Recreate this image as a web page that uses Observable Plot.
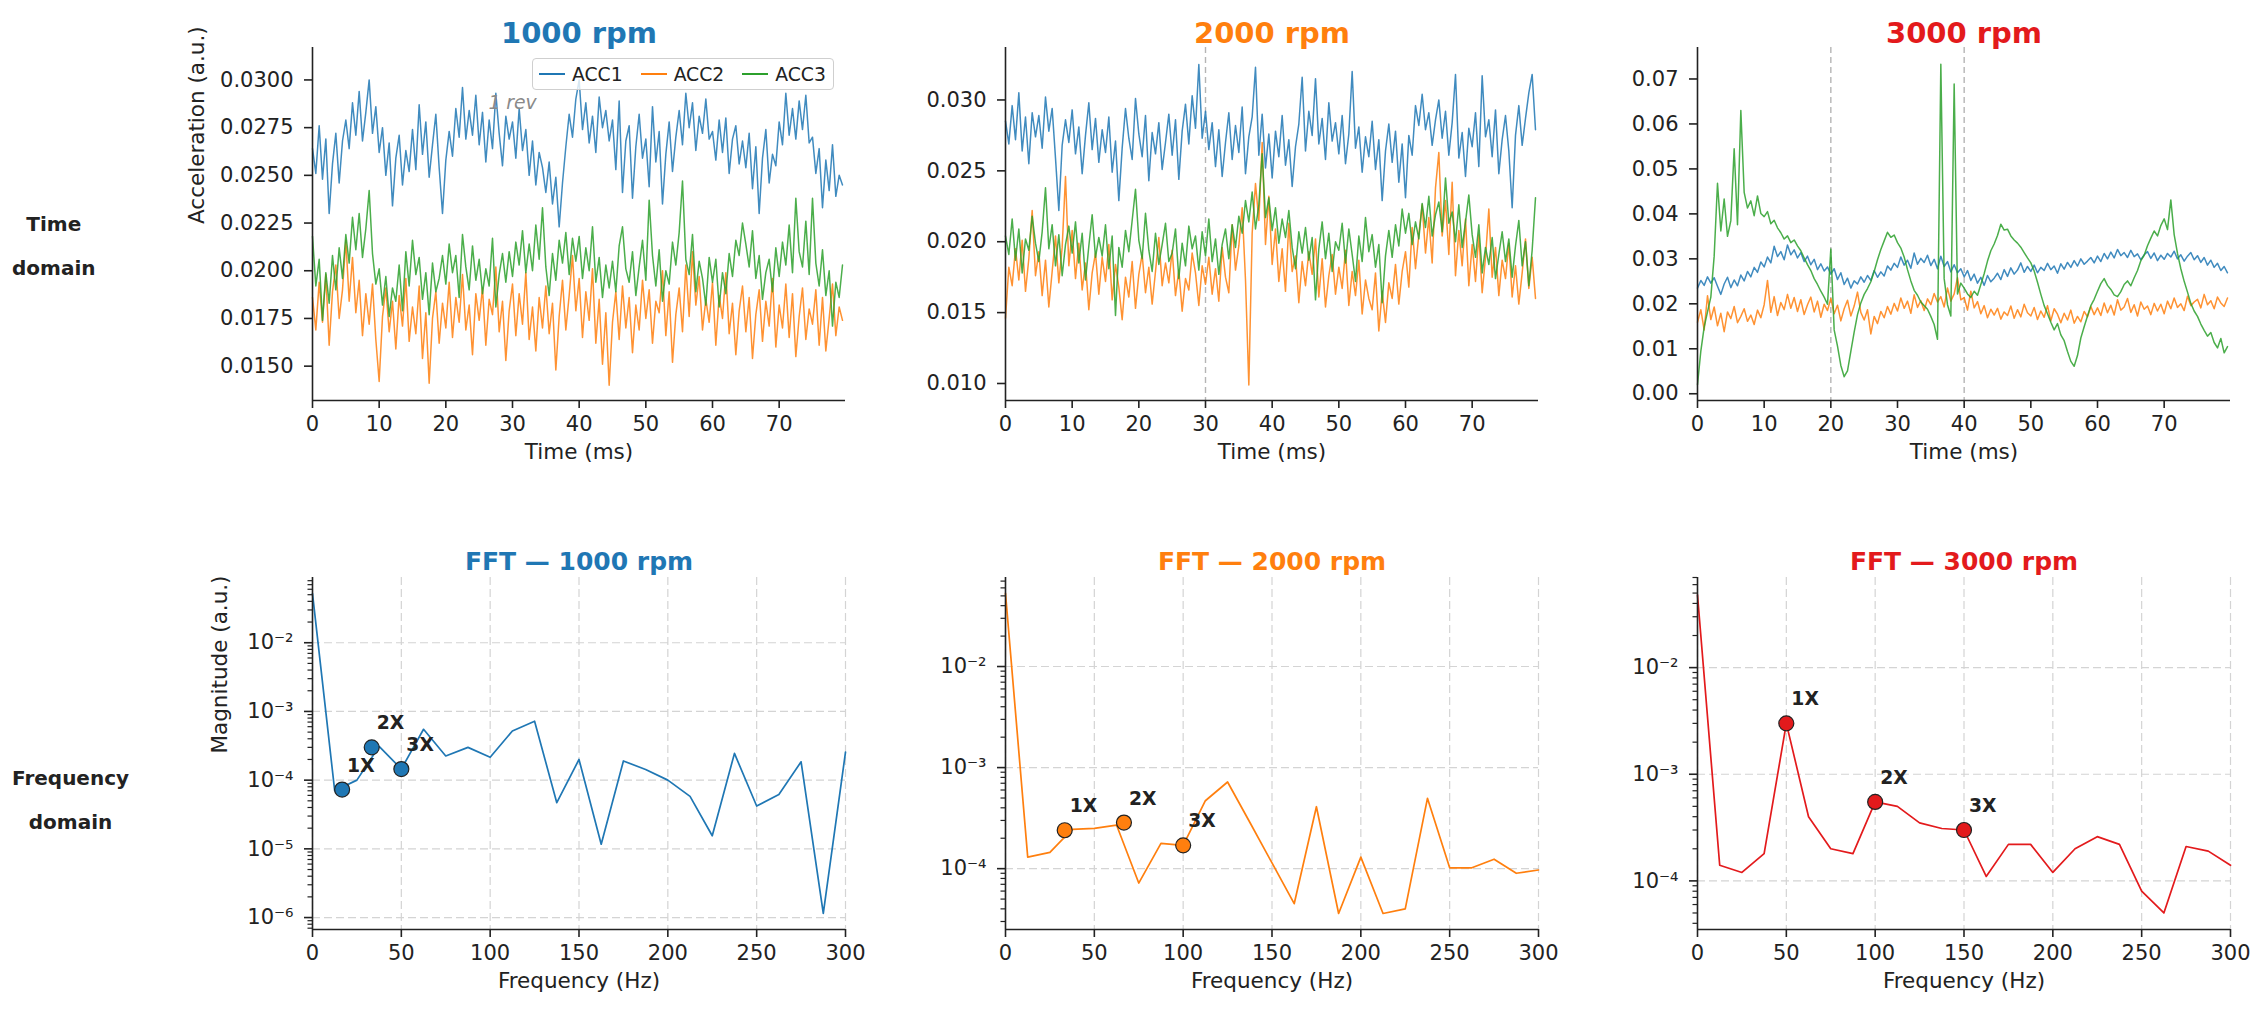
<!DOCTYPE html>
<html>
<head>
<meta charset="utf-8">
<script src="https://cdn.jsdelivr.net/npm/d3@7"></script>
<script src="https://cdn.jsdelivr.net/npm/@observablehq/plot@0.6"></script>
<style>
  body { margin: 0; background: #fff; }
  #fig { position: relative; width: 2259px; height: 1009px; background: #fff; overflow: hidden;
         font-family: "DejaVu Sans", sans-serif; color: #222; }
  .panel { position: absolute; }
  .rowlab { position: absolute; font-weight: bold; font-size: 20px; text-align: center; line-height: 2.2;
            transform: translateY(-50%); white-space: nowrap; }
  .legend { position: absolute; box-sizing: border-box; border: 1px solid #cfcfcf; border-radius: 4px;
            background: rgba(255,255,255,0.8); display: flex; align-items: center; padding-left: 6px;
            font-size: 18.75px; }
  .legend .item { display: flex; align-items: center; margin-right: 18px; }
  .legend .sw { width: 26px; height: 2px; margin-right: 7px; }
</style>
</head>
<body>
<div id="fig"></div>
<script>
// ---------------- DATA ----------------
// time-domain samples, every 0.5 ms, values in units of 1e-3 (a.u.)
const timeStepMs = 0.5;
const timeTicksMs = [0, 10, 20, 30, 40, 50, 60, 70];
const seriesNames = ["ACC1", "ACC2", "ACC3"];

const acc1_1000 = [
26.4,25.1,27.6,24.8,26.9,23.0,25.6,27.2,24.6,26.8,
27.9,26.4,28.8,27.1,29.4,26.8,28.3,30.0,27.2,28.6,
26.2,27.5,25.0,26.7,23.4,25.9,27.1,24.5,26.3,25.2,
27.4,25.3,28.7,26.1,27.8,24.9,26.6,28.2,25.4,23.0,
25.8,27.3,26.0,28.5,27.0,29.6,26.9,28.4,27.1,29.2,
26.6,28.3,25.7,27.9,26.4,29.3,27.2,25.5,28.1,26.9,
27.8,25.9,28.5,26.3,27.4,25.0,26.8,24.5,26.2,25.4,
24.1,25.7,23.5,24.9,22.3,24.6,26.5,28.2,27.0,29.0,
30.0,27.4,28.8,26.7,28.1,26.2,29.1,27.5,28.4,26.8,
27.9,25.3,28.9,24.1,26.8,27.6,23.8,26.5,28.2,25.9,
26.9,24.4,28.6,25.7,27.3,23.5,26.1,27.8,25.2,27.0,
28.4,26.6,29.3,27.5,28.8,26.3,28.1,27.2,29.0,26.9,
27.3,25.8,27.9,26.2,28.0,25.1,26.9,27.6,25.6,26.8,
25.4,27.2,24.3,26.5,23.0,25.9,27.4,24.6,26.1,25.5,
27.8,26.6,29.3,27.1,28.5,26.9,28.9,27.4,29.2,26.7,
27.0,25.1,26.4,23.3,25.8,24.2,26.6,23.9,25.0,24.5];
const acc2_1000 = [
18.6,16.9,19.4,17.3,19.8,16.1,18.9,20.3,17.5,19.0,
21.6,18.4,20.7,17.8,19.5,16.6,18.8,17.2,19.3,16.4,
14.2,17.6,19.1,16.8,18.4,15.9,18.7,17.1,19.6,16.3,
18.1,16.7,19.2,15.4,17.8,14.1,17.5,18.9,16.2,18.3,
17.0,19.4,16.5,18.6,17.3,19.8,16.9,18.2,15.6,18.8,
17.4,19.1,16.1,18.5,17.7,20.2,16.8,18.4,15.3,17.9,
19.3,16.6,18.8,17.2,19.9,16.4,18.1,15.8,18.6,17.0,
19.2,16.7,18.3,14.8,17.6,19.5,16.9,18.7,20.8,17.9,
19.6,16.5,18.9,17.4,20.1,16.2,18.5,15.1,17.8,14.0,
17.3,18.9,16.4,19.2,17.0,18.6,15.7,18.2,16.9,19.5,
17.5,19.0,16.2,18.4,17.8,20.0,16.6,18.9,15.2,17.7,
19.1,16.8,20.3,17.6,21.0,18.2,19.7,16.9,18.5,17.3,
19.4,16.1,18.7,17.5,19.9,16.7,18.3,15.6,17.9,19.2,
16.8,18.6,15.4,17.7,19.0,16.3,18.4,17.1,19.6,16.0,
18.2,17.0,19.3,16.5,18.8,15.5,17.6,19.1,16.4,18.0,
17.2,19.0,16.1,18.6,15.8,17.5,19.3,16.6,18.1,17.4];
const acc3_1000 = [
21.8,19.2,20.6,17.4,19.9,18.3,20.8,19.0,21.2,19.6,
21.9,20.4,22.8,21.1,23.0,20.7,22.2,24.2,20.9,19.3,
20.1,18.2,19.7,17.6,19.1,18.4,20.3,17.9,21.0,19.2,
21.6,19.8,20.7,18.5,19.9,17.7,20.4,18.9,19.6,20.8,
19.3,21.4,19.9,20.8,18.6,21.9,20.2,19.0,21.3,19.5,
20.6,18.8,20.1,19.2,21.7,18.1,19.8,20.9,19.4,21.0,
19.7,21.5,20.3,22.1,19.9,21.4,20.0,22.4,20.6,23.3,
20.2,18.7,20.9,19.5,21.6,20.4,22.0,19.8,21.7,20.5,
21.8,19.6,21.2,20.0,22.3,19.4,20.7,18.6,20.3,19.1,
20.5,18.9,21.3,22.3,20.1,19.4,21.0,18.7,20.2,21.6,
19.5,23.7,20.8,19.2,21.1,18.4,20.0,19.3,21.5,20.3,
22.0,24.7,20.6,19.8,21.9,18.9,20.5,19.6,18.2,20.7,
19.4,20.6,18.1,19.9,18.8,20.9,19.7,21.6,20.8,22.5,
21.4,20.2,22.1,19.6,20.8,18.5,19.9,20.6,18.9,21.2,
19.7,21.5,20.3,22.4,19.9,23.8,21.0,20.2,22.6,19.8,
23.8,20.4,19.2,21.1,18.7,20.0,17.1,19.4,18.6,20.3];

const acc1_2000 = [
28.5,26.9,29.6,27.2,30.5,26.4,28.8,25.5,29.1,27.4,
28.9,26.6,30.2,27.8,29.4,25.9,22.2,26.8,28.6,27.0,
29.3,26.2,28.1,24.8,27.5,29.8,26.5,28.7,25.6,27.9,
26.3,28.8,24.9,27.1,22.9,26.6,29.4,27.3,25.8,30.1,
27.6,26.0,28.9,24.3,27.7,26.2,28.4,25.1,27.0,29.0,
26.1,28.6,24.4,27.8,29.7,26.9,30.3,28.0,32.5,27.3,
29.2,26.5,28.4,25.3,27.9,24.6,27.0,29.1,25.8,28.2,
26.3,29.5,24.8,27.4,28.8,32.3,26.1,29.0,25.2,27.6,
24.5,27.8,26.0,28.9,25.4,27.2,23.9,26.7,28.3,31.6,
26.4,29.2,27.5,31.5,26.9,28.7,25.8,29.8,27.1,28.4,
26.2,28.9,25.5,27.6,32.0,26.6,28.1,24.9,27.4,26.0,
28.5,25.1,27.2,22.9,26.4,28.3,25.6,27.8,24.2,26.9,
23.1,27.5,26.1,29.6,28.2,30.4,27.9,29.1,26.8,28.6,
30.0,27.3,29.2,26.1,28.4,31.8,25.9,27.7,24.6,28.0,
26.7,29.1,25.3,31.7,27.4,28.6,26.0,29.3,24.8,27.2,
28.9,26.4,22.4,27.5,29.6,26.8,28.7,30.5,31.8,27.9];
const acc2_2000 = [
14.6,18.2,16.9,19.5,17.3,20.1,16.5,18.8,22.2,17.6,
19.3,16.2,18.7,15.4,17.9,20.4,17.1,19.6,24.6,18.3,
20.8,17.4,19.9,16.6,18.5,15.2,17.8,19.2,16.3,18.9,
17.2,19.8,15.9,18.4,16.8,14.5,17.5,16.1,18.6,15.3,
17.7,19.1,16.4,18.2,15.6,17.9,20.3,16.9,18.5,17.1,
19.4,16.2,18.0,15.1,17.4,16.6,19.2,17.8,15.5,18.3,
17.0,18.9,16.3,18.1,15.8,19.6,17.5,16.4,21.2,18.0,
19.7,22.4,17.3,9.9,20.6,24.1,21.5,27.0,19.8,23.2,
18.4,20.9,17.2,19.5,16.5,21.3,17.9,19.0,15.7,18.6,
16.9,19.3,17.7,20.2,16.1,18.8,15.4,17.6,19.1,16.3,
18.2,16.7,19.4,15.5,17.9,16.2,18.7,14.9,17.3,16.0,
15.2,17.8,13.7,16.5,14.3,17.1,16.0,18.4,15.6,17.9,
19.3,16.8,21.0,18.1,20.5,22.6,19.2,21.7,18.5,23.8,
26.3,20.4,22.9,19.1,24.2,17.6,20.8,18.3,21.6,16.9,
19.8,17.2,20.5,16.4,18.9,22.3,17.5,19.6,16.2,18.7,
17.4,19.9,16.1,18.3,15.6,17.8,20.2,16.7,18.9,16.0];
const acc3_2000 = [
20.4,19.1,21.6,18.7,20.9,17.8,20.2,19.4,21.8,19.9,
18.6,20.7,23.8,19.5,21.2,18.3,20.5,17.6,19.8,21.1,
19.2,21.4,18.5,20.6,17.3,19.7,21.9,18.9,20.3,19.0,
21.2,18.1,20.4,14.8,19.6,18.2,20.8,19.3,21.5,23.7,
20.1,18.8,22.0,19.4,17.9,20.6,18.4,19.8,21.3,18.6,
19.2,20.9,17.4,19.9,18.3,21.1,19.5,20.4,18.0,20.7,
19.0,21.6,18.6,20.2,17.7,19.8,20.9,18.8,21.2,19.6,
21.8,20.6,22.9,21.4,23.5,20.9,22.6,26.2,21.7,23.1,
20.8,22.4,19.9,21.6,20.3,22.2,19.6,18.1,20.7,19.2,
21.0,18.7,20.3,15.9,19.5,21.4,18.8,20.6,17.9,20.0,
19.4,21.3,18.5,20.9,19.1,17.2,20.4,18.6,21.7,19.3,
20.5,18.2,19.8,15.7,19.0,20.8,18.9,21.2,19.7,22.3,
20.6,22.0,19.8,21.4,20.2,22.7,21.0,23.2,20.4,21.9,
22.8,20.7,24.5,21.3,22.1,20.0,22.6,19.6,21.4,23.3,
20.5,18.9,21.2,17.8,19.6,18.4,20.3,17.4,19.1,20.7,
18.6,20.2,17.5,19.7,21.5,18.3,20.0,16.9,19.4,23.1];

const acc1_3000 = [
23.5,25.2,24.1,26.0,24.6,25.8,23.9,22.1,24.4,25.9,
23.6,25.3,24.0,26.4,25.1,27.2,26.0,28.1,27.0,29.3,
28.2,30.4,29.1,32.8,30.5,31.6,29.8,33.1,30.9,32.0,
30.2,31.4,29.4,30.6,28.7,29.9,27.6,28.9,27.3,28.2,
26.6,27.8,25.4,26.9,24.3,25.7,23.5,25.1,24.4,26.0,
24.8,26.3,25.2,27.4,25.9,27.1,26.2,28.4,27.5,29.0,
28.1,30.4,28.6,29.7,27.9,31.3,28.8,30.1,29.2,30.8,
28.5,29.9,27.8,30.6,28.3,29.4,27.1,28.7,26.9,27.8,
26.0,27.4,25.2,26.6,24.6,25.9,24.1,26.3,24.9,25.7,
26.8,25.4,27.6,26.1,28.0,26.6,27.5,29.1,27.0,28.3,
27.2,28.6,26.9,28.1,27.4,29.0,27.6,28.4,26.8,28.9,
27.7,29.2,28.1,29.6,28.4,30.0,28.8,29.5,30.3,29.1,
30.6,29.4,31.2,30.0,31.5,30.2,32.1,30.7,31.4,30.3,
31.9,30.5,31.1,29.8,30.9,31.6,30.1,31.3,29.6,30.8,
29.9,31.2,30.4,31.7,30.0,30.9,29.5,30.6,31.4,29.8,
30.7,29.2,30.3,28.6,29.7,28.1,29.0,27.4,28.3,26.9];
const acc2_3000 = [
15.9,18.7,14.2,21.8,16.5,19.3,15.1,17.9,13.8,18.2,
16.7,19.4,15.8,17.2,18.9,16.1,17.5,15.4,18.6,16.9,
19.8,25.2,18.1,21.6,17.4,20.3,18.7,22.1,19.0,21.4,
18.3,20.9,17.6,19.8,21.5,18.2,20.6,17.0,19.9,18.5,
21.2,17.8,19.7,16.2,18.9,20.8,17.3,19.5,22.6,18.1,
16.4,18.7,13.3,17.2,15.6,18.3,16.9,19.4,17.7,20.1,
18.4,21.3,19.0,20.6,17.9,22.0,19.2,20.7,18.5,21.1,
19.8,22.3,20.4,21.6,19.3,23.5,20.6,22.2,25.8,20.9,
21.4,18.6,22.8,19.1,20.5,17.8,19.6,16.9,18.8,17.5,
19.0,16.6,18.2,17.4,19.5,16.8,18.7,17.1,19.9,18.0,
17.3,19.2,16.5,18.4,17.0,19.6,16.2,18.9,17.7,15.8,
17.9,16.4,18.6,15.7,17.2,16.0,18.3,17.1,19.4,17.6,
19.1,17.4,20.2,18.0,19.7,17.5,20.9,18.6,19.3,21.2,
18.1,19.8,17.3,20.4,18.8,19.5,17.6,20.1,18.4,19.9,
17.8,20.6,18.9,21.3,19.2,20.0,18.5,21.7,19.6,20.4,
21.0,19.1,22.1,19.8,20.7,18.9,21.5,20.2,19.4,21.3];
const acc3_3000 = [
2.0,9.5,14.8,18.2,21.5,30.6,46.8,36.2,43.3,35.0,
38.5,54.5,37.6,63.0,44.8,41.3,42.9,39.6,44.0,40.1,
39.4,40.5,37.8,38.6,36.9,35.8,34.4,35.1,33.6,34.2,
32.9,31.8,30.2,28.7,27.4,25.6,24.3,22.8,21.5,19.9,
32.2,14.2,10.6,6.3,3.8,5.1,9.4,13.7,17.6,20.2,
22.1,23.4,24.9,27.2,29.8,32.1,34.0,35.9,34.8,35.3,
33.6,32.4,30.4,27.6,25.1,23.0,21.9,20.4,19.6,18.8,
17.2,15.4,12.1,73.3,25.6,19.8,17.3,68.9,22.2,24.6,
23.5,22.2,21.4,22.8,21.9,24.3,26.7,29.5,31.8,33.3,
35.2,37.7,36.4,36.6,35.1,34.2,33.5,32.6,31.4,30.2,
29.1,27.3,24.8,22.1,19.6,17.8,15.9,14.2,15.6,13.1,
11.8,9.4,7.2,6.1,8.5,12.4,14.9,17.3,19.6,21.0,
22.8,24.5,25.6,24.1,23.2,22.0,21.6,22.7,24.3,25.1,
24.0,25.8,27.4,29.6,30.8,32.9,34.6,36.2,35.1,37.4,
38.9,36.5,43.1,35.4,31.2,27.8,25.0,22.6,20.1,18.4,
17.2,15.5,14.1,12.8,13.6,11.4,10.2,12.3,9.1,10.5];

// revolution markers (ms) and tick values
const revLines1000 = [];
const revLines2000 = [30];
const revLines3000 = [20, 40];
const revLabel1000 = {t: 30, v: 0.02881, text: "1 rev"};
const yTicks1000 = [0.0150, 0.0175, 0.0200, 0.0225, 0.0250, 0.0275, 0.0300];
const yTicks2000 = [0.010, 0.015, 0.020, 0.025, 0.030];
const yTicks3000 = [0.00, 0.01, 0.02, 0.03, 0.04, 0.05, 0.06, 0.07];

// frequency domain
const fftFreqHz = [0,12.5,25,37.5,50,62.5,75,87.5,100,112.5,125,137.5,150,162.5,175,187.5,200,212.5,225,237.5,250,262.5,275,287.5,300];
const fft1000 = [0.052,7.0e-5,1.0e-4,3.1e-4,1.45e-4,5.5e-4,2.25e-4,3.0e-4,2.15e-4,5.2e-4,7.2e-4,4.7e-5,2.0e-4,1.17e-5,1.9e-4,1.43e-4,1.0e-4,5.8e-5,1.55e-5,2.45e-4,4.2e-5,6.2e-5,1.85e-4,1.15e-6,2.55e-4];
const fft2000 = [0.053,1.3e-4,1.45e-4,2.45e-4,2.5e-4,2.7e-4,7.2e-5,1.78e-4,1.7e-4,4.7e-4,7.2e-4,2.88e-4,1.14e-4,4.5e-5,4.1e-4,3.6e-5,1.3e-4,3.6e-5,4.0e-5,4.96e-4,1.02e-4,1.02e-4,1.24e-4,9.0e-5,9.7e-5];
const fft3000 = [0.048,1.4e-4,1.2e-4,1.8e-4,3.0e-3,4.0e-4,2.0e-4,1.8e-4,5.5e-4,5.0e-4,3.5e-4,3.1e-4,3.0e-4,1.1e-4,2.2e-4,2.2e-4,1.2e-4,2.0e-4,2.6e-4,2.2e-4,8.0e-5,5.0e-5,2.1e-4,1.9e-4,1.4e-4];
const harmonicLabels = ["1X", "2X", "3X"];
const harm1000Hz = [16.67, 33.33, 50];
const harm1000Mag = [7.3e-5, 3.0e-4, 1.45e-4];
const harm2000Hz = [33.33, 66.67, 100];
const harm2000Mag = [2.4e-4, 2.86e-4, 1.7e-4];
const harm3000Hz = [50, 100, 150];
const harm3000Mag = [3.0e-3, 5.5e-4, 3.0e-4];
const freqTicksHz = [0, 50, 100, 150, 200, 250, 300];
const rowLabels = [["Time", "domain"], ["Frequency", "domain"]];

// ---------------- STYLE / LAYOUT ----------------
const C_BLUE = "#1f77b4", C_ORANGE = "#ff7f0e", C_GREEN = "#2ca02c", C_RED = "#e31a1c";
const seriesColors = [C_BLUE, C_ORANGE, C_GREEN];
const INK = "#222";
const colLeft = [312, 1005, 1697];
const frameW = 533;
const topFrameTop = 47, topFrameH = 353;
const botFrameTop = 577, botFrameH = 352;
const ML = 140, MR = 20;
const rowLabelY = [246, 800];

const fig = document.getElementById("fig");
const sup = {"0":"⁰","1":"¹","2":"²","3":"³","4":"⁴","5":"⁵","6":"⁶","7":"⁷","8":"⁸","9":"⁹","-":"⁻"};
const powFmt = d => "10" + String(Math.round(Math.log10(d))).split("").map(c => sup[c] || c).join("");
function minorTicks(lo, hi) {
  const out = [];
  for (let k = Math.floor(Math.log10(lo)); k <= Math.ceil(Math.log10(hi)); k++)
    for (let m = 2; m <= 9; m++) { const v = m * Math.pow(10, k); if (v >= lo && v <= hi) out.push(v); }
  return out;
}
function place(el, left, top) {
  el.classList.add("panel");
  el.style.left = left + "px"; el.style.top = top + "px";
  fig.appendChild(el);
}
const svgStyle = {fontFamily: "DejaVu Sans", fontSize: "21px", color: INK, background: "transparent", overflow: "visible"};

function timePanel(cfg) {
  const marks = [];
  marks.push(Plot.ruleX(cfg.revLines, {stroke: "#b5b5b5", strokeWidth: 1.4, strokeDasharray: "6,4"}));
  cfg.series.forEach((vals, si) => {
    const rows = vals.map((v, i) => ({t: i * timeStepMs, v: v / 1000}));
    marks.push(Plot.line(rows, {x: "t", y: "v", stroke: seriesColors[si], strokeWidth: 1.5, strokeOpacity: 0.85}));
  });
  if (cfg.revLabel) {
    marks.push(Plot.text([cfg.revLabel], {x: "t", y: "v", text: "text", fill: "#8a8a8a", fontStyle: "italic", fontSize: 18.75}));
  }
  marks.push(
    Plot.axisX({ticks: timeTicksMs, tickSize: 8, tickPadding: 8, strokeWidth: 1.6, label: null}),
    Plot.axisY({ticks: cfg.yTicks, tickFormat: d3.format(cfg.yFmt), tickSize: 8, tickPadding: 11, strokeWidth: 1.6, label: null}),
    Plot.ruleX([0], {stroke: INK, strokeWidth: 1.6}),
    Plot.ruleY([cfg.yDomain[0]], {stroke: INK, strokeWidth: 1.6}),
    Plot.text([cfg.title], {frameAnchor: "top", dy: -25, text: d => d, fill: cfg.color, fontWeight: "bold", fontSize: 29}),
    Plot.text(["Time (ms)"], {frameAnchor: "bottom", dy: 58, text: d => d, fontSize: 21.5})
  );
  if (cfg.yLabel) marks.push(Plot.text([cfg.yLabel], {frameAnchor: "left", dx: -115, rotate: -90, text: d => d, fontSize: 21.5}));
  const el = Plot.plot({
    width: ML + frameW + MR, height: topFrameTop + topFrameH + 75,
    marginLeft: ML, marginRight: MR, marginTop: topFrameTop, marginBottom: 75,
    style: svgStyle,
    x: {domain: [0, 79.95], label: null},
    y: {domain: cfg.yDomain, label: null},
    marks
  });
  place(el, cfg.left - ML, 0);
}

function fftPanel(cfg) {
  const decades = [1e-6, 1e-5, 1e-4, 1e-3, 1e-2].filter(d => d >= cfg.yDomain[0] && d <= cfg.yDomain[1]);
  const rows = fftFreqHz.map((f, i) => ({f, m: cfg.mag[i]}));
  const harm = harmonicLabels.map((lab, i) => ({f: cfg.hz[i], m: cfg.hmag[i], lab}));
  const marks = [
    Plot.gridX({ticks: freqTicksHz, stroke: "#d4d4d4", strokeOpacity: 1, strokeWidth: 1.2, strokeDasharray: "8,4"}),
    Plot.gridY({ticks: decades, stroke: "#d4d4d4", strokeOpacity: 1, strokeWidth: 1.2, strokeDasharray: "8,4"}),
    Plot.line(rows, {x: "f", y: "m", stroke: cfg.color, strokeWidth: 1.7}),
    Plot.dot(harm, {x: "f", y: "m", r: 7.5, fill: cfg.color, stroke: INK, strokeWidth: 1.2}),
    Plot.text(harm, {x: "f", y: "m", text: "lab", dx: 5, dy: -24, textAnchor: "start", fontWeight: "bold", fontSize: 18.75, fill: INK}),
    Plot.axisX({ticks: freqTicksHz, tickSize: 8, tickPadding: 8, strokeWidth: 1.6, label: null}),
    Plot.axisY({ticks: decades, tickFormat: powFmt, tickSize: 8, tickPadding: 11, strokeWidth: 1.6, label: null}),
    Plot.axisY({ticks: minorTicks(cfg.yDomain[0], cfg.yDomain[1]), tickFormat: () => "", tickSize: 4.5, strokeWidth: 1.2, label: null}),
    Plot.ruleX([0], {stroke: INK, strokeWidth: 1.6}),
    Plot.ruleY([cfg.yDomain[0]], {stroke: INK, strokeWidth: 1.6}),
    Plot.text([cfg.title], {frameAnchor: "top", dy: -25, text: d => d, fill: cfg.color, fontWeight: "bold", fontSize: 25}),
    Plot.text(["Frequency (Hz)"], {frameAnchor: "bottom", dy: 58.5, text: d => d, fontSize: 21.5})
  ];
  if (cfg.yLabel) marks.push(Plot.text([cfg.yLabel], {frameAnchor: "left", dx: -92, rotate: -90, text: d => d, fontSize: 21.5}));
  const el = Plot.plot({
    width: ML + frameW + MR, height: 50 + botFrameH + 78,
    marginLeft: ML, marginRight: MR, marginTop: 50, marginBottom: 78,
    style: svgStyle,
    x: {domain: [0, 300], label: null},
    y: {type: "log", domain: cfg.yDomain, label: null},
    marks
  });
  place(el, cfg.left - ML, botFrameTop - 50);
}

timePanel({title: "1000 rpm", color: C_BLUE, left: colLeft[0], series: [acc1_1000, acc2_1000, acc3_1000],
  yDomain: [0.0132, 0.0317], yTicks: yTicks1000, yFmt: ".4f", revLines: revLines1000, revLabel: revLabel1000, yLabel: "Acceleration (a.u.)"});
timePanel({title: "2000 rpm", color: C_ORANGE, left: colLeft[1], series: [acc1_2000, acc2_2000, acc3_2000],
  yDomain: [0.0088, 0.0337], yTicks: yTicks2000, yFmt: ".3f", revLines: revLines2000});
timePanel({title: "3000 rpm", color: C_RED, left: colLeft[2], series: [acc1_3000, acc2_3000, acc3_3000],
  yDomain: [-0.0015, 0.077], yTicks: yTicks3000, yFmt: ".2f", revLines: revLines3000});

fftPanel({title: "FFT — 1000 rpm", color: C_BLUE, left: colLeft[0], mag: fft1000, hz: harm1000Hz, hmag: harm1000Mag,
  yDomain: [6.7e-7, 0.089], yLabel: "Magnitude (a.u.)"});
fftPanel({title: "FFT — 2000 rpm", color: C_ORANGE, left: colLeft[1], mag: fft2000, hz: harm2000Hz, hmag: harm2000Mag,
  yDomain: [2.5e-5, 0.076]});
fftPanel({title: "FFT — 3000 rpm", color: C_RED, left: colLeft[2], mag: fft3000, hz: harm3000Hz, hmag: harm3000Mag,
  yDomain: [3.5e-5, 0.07]});

// legend (panel 1)
const leg = document.createElement("div");
leg.className = "legend";
Object.assign(leg.style, {left: "532px", top: "58px", width: "302px", height: "32px"});
seriesNames.forEach((n, i) => {
  const it = document.createElement("div"); it.className = "item";
  const sw = document.createElement("div"); sw.className = "sw"; sw.style.background = seriesColors[i];
  const tx = document.createElement("span"); tx.textContent = n;
  it.appendChild(sw); it.appendChild(tx); leg.appendChild(it);
});
fig.appendChild(leg);

// row labels (left aligned block, lines centred)
rowLabels.forEach(([a, b], i) => {
  const d = document.createElement("div"); d.className = "rowlab";
  d.style.left = "12px"; d.style.top = rowLabelY[i] + "px";
  d.innerHTML = a + "<br>" + b;
  fig.appendChild(d);
});
</script>
</body>
</html>
